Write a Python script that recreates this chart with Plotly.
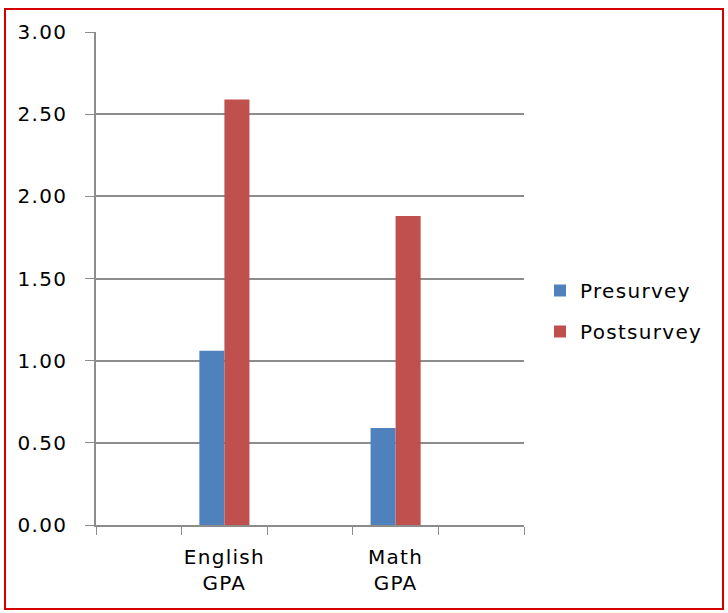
import plotly.graph_objects as go

# Category slots: empty spacers around each GPA group
categories = ["", "English<br>GPA", " ", "Math<br>GPA", "  "]
presurvey = [None, 1.06, None, 0.59, None]
postsurvey = [None, 2.59, None, 1.88, None]
y_ticks = [0, 0.5, 1.0, 1.5, 2.0, 2.5, 3.0]
y_tick_labels = ["0.00", "0.50", "1.00", "1.50", "2.00", "2.50", "3.00"]
series_names = ["Presurvey", "Postsurvey"]

W, H = 728, 613
L, R, T, B = 96, 204, 32, 88
pw, ph = W - L - R, H - T - B


def px_x(x):
    return (x - L) / pw


def px_y(y):
    return (H - B - y) / ph


def spaced(text, gap="1.3px"):
    """Wrap each line of a label in a letter-spaced span."""
    return "<br>".join(
        f"<span style='letter-spacing:{gap}'>{part}</span>" if part.strip() else part
        for part in text.split("<br>")
    )


font_family = "DejaVu Sans, Verdana, sans-serif"
axis_gray = "#8c8c8c"
fsize = 20

fig = go.Figure()
fig.add_trace(go.Bar(
    x=categories, y=presurvey, name=spaced(series_names[0]),
    marker=dict(color="#4F81BD", line=dict(width=0)),
    legendgroup="pre",
))
fig.add_trace(go.Bar(
    x=categories, y=postsurvey, name=spaced(series_names[1]),
    marker=dict(color="#C0504D", line=dict(width=0)),
    legendgroup="post",
))

fig.update_layout(
    width=W, height=H,
    margin=dict(l=L, r=R, t=T, b=B, autoexpand=False),
    paper_bgcolor="white", plot_bgcolor="white",
    barmode="group", bargap=0.415, bargroupgap=0,
    font=dict(family=font_family, size=fsize, color="black"),
    legend=dict(
        x=px_x(540), y=px_y(311), xanchor="left", yanchor="middle",
        font=dict(size=fsize, color="black"),
        traceorder="grouped", tracegroupgap=12,
        bgcolor="rgba(0,0,0,0)",
    ),
    xaxis=dict(
        type="category", categoryorder="array", categoryarray=categories,
        tickmode="array", tickvals=categories,
        ticktext=[spaced(c) for c in categories],
        tickangle=0, automargin=False,
        tickson="boundaries", ticks="outside", ticklen=8, tickcolor=axis_gray,
        showline=True, linecolor=axis_gray, linewidth=1.5,
        showgrid=False, zeroline=False,
        tickfont=dict(size=fsize, color="black"),
        ticklabelstandoff=13,
    ),
    yaxis=dict(
        range=[0, 3], tickvals=y_ticks,
        ticktext=[spaced(t) for t in y_tick_labels],
        automargin=False,
        ticks="outside", ticklen=9, tickcolor=axis_gray,
        showline=True, linecolor=axis_gray, linewidth=1.5,
        showgrid=True, gridcolor=axis_gray, gridwidth=1.5,
        zeroline=False,
        tickfont=dict(size=fsize, color="black"),
        ticklabelstandoff=14,
    ),
    shapes=[dict(
        type="rect", xref="paper", yref="paper",
        x0=px_x(5), x1=px_x(723), y0=px_y(609), y1=px_y(9),
        line=dict(color="#D40000", width=2), fillcolor="rgba(0,0,0,0)",
        layer="above",
    )],
)

fig.write_html("out.html")
